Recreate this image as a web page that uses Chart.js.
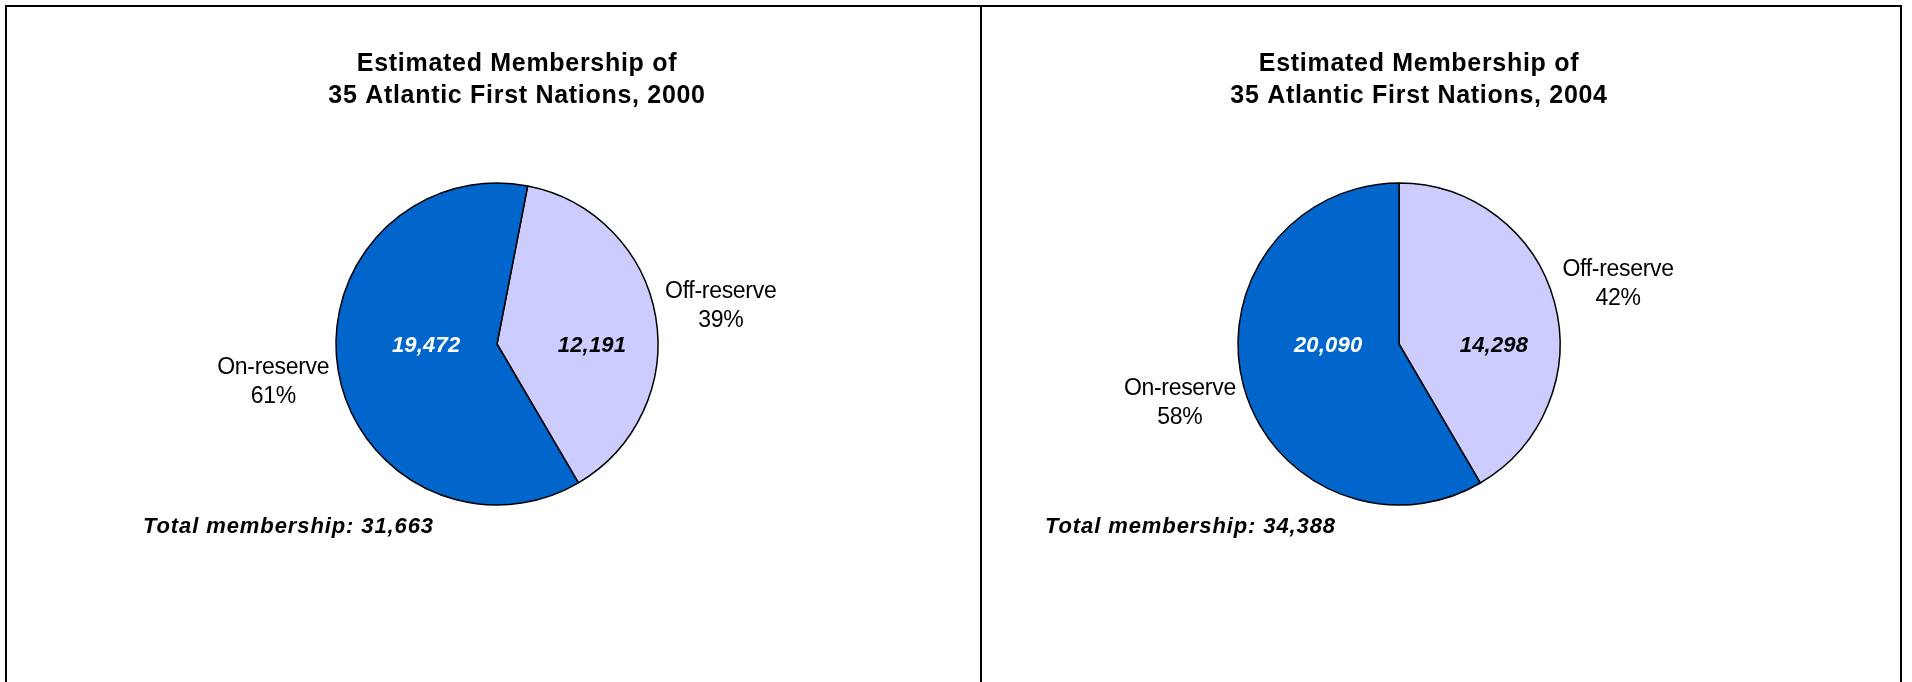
<!DOCTYPE html>
<html>
<head>
<meta charset="utf-8">
<title>Estimated Membership of 35 Atlantic First Nations</title>
<script src="https://cdn.jsdelivr.net/npm/chart.js@4.4.1/dist/chart.umd.min.js"></script>
<style>
  html, body { margin: 0; padding: 0; background: #fff; overflow: hidden; }
  body { width: 1912px; height: 682px; position: relative; }
  #cadre {
    position: absolute; left: 5px; top: 5px; width: 1897px; height: 720px;
    border: 2px solid #000; box-sizing: border-box;
  }
  #separateur { position: absolute; left: 980px; top: 5px; width: 2px; height: 720px; background: #000; }
  canvas { position: absolute; top: 0; }
  #grafico2000 { left: 0; }
  #grafico2004 { left: 982px; }
</style>
</head>
<body>
<div id="cadre"></div>
<div id="separateur"></div>
<canvas id="grafico2000" width="980" height="682"></canvas>
<canvas id="grafico2004" width="922" height="682"></canvas>
<script>
const categorias = ["Off-reserve", "On-reserve"];
const anos = ["2000", "2004"];
const membros2000 = [12191, 19472];
const membros2004 = [14298, 20090];
const cores = ["#CCCCFF", "#0066CC"];
const coresValor = ["#000000", "#FFFFFF"];

const fonte = "'Liberation Sans', Arial, sans-serif";

function formatar(n) {
  return n.toLocaleString("en-US");
}

// titles, outside category labels, slice values and the total line
const textoPizza = {
  id: "textoPizza",
  afterDatasetsDraw(chart, args, opts) {
    const ctx = chart.ctx;
    const arcos = chart.getDatasetMeta(0).data;
    const valores = chart.data.datasets[0].data;
    const total = valores.reduce((a, b) => a + b, 0);
    const cx = arcos[0].x;
    const cy = arcos[0].y;
    const r = arcos[0].outerRadius;

    ctx.save();
    ctx.fillStyle = "#000";

    // title
    ctx.font = "bold 25px " + fonte;
    ctx.letterSpacing = "0.7px";
    ctx.textAlign = "center";
    ctx.textBaseline = "alphabetic";
    opts.titulo.forEach((linha, i) => {
      ctx.fillText(linha, cx + 20, cy - 273 + i * 32);
    });

    // category name and share outside each slice
    ctx.font = "23px " + fonte;
    ctx.letterSpacing = "-0.3px";
    ctx.textBaseline = "middle";
    arcos.forEach((arco, i) => {
      const meio = (arco.startAngle + arco.endAngle) / 2;
      const x = cx + Math.cos(meio) * (r + 66);
      const y = cy + Math.sin(meio) * (r + 66);
      const pct = Math.round(valores[i] / total * 100) + "%";
      ctx.fillText(chart.data.labels[i], x, y - 14.5);
      ctx.fillText(pct, x, y + 14.5);
    });

    // member counts inside slices
    ctx.font = "italic bold 22px " + fonte;
    ctx.letterSpacing = "0.2px";
    arcos.forEach((arco, i) => {
      ctx.fillStyle = coresValor[i];
      ctx.fillText(formatar(valores[i]), cx + opts.deslocamento[i] * r, cy + 2);
    });

    // total
    ctx.fillStyle = "#000";
    ctx.font = "italic bold 22px " + fonte;
    ctx.letterSpacing = "0.9px";
    ctx.textAlign = "left";
    ctx.textBaseline = "alphabetic";
    ctx.fillText("Total membership: " + formatar(total), cx - 354, cy + 189);

    ctx.restore();
  }
};

function montarPizza(id, ano, dados, rotacao, padding) {
  new Chart(document.getElementById(id), {
    type: "pie",
    data: {
      labels: categorias,
      datasets: [
        {
          data: dados,
          backgroundColor: cores,
          borderColor: "#000000",
          borderWidth: 1.5,
          radius: 161
        }
      ]
    },
    options: {
      responsive: false,
      animation: false,
      events: [],
      rotation: rotacao,
      layout: { padding: padding },
      plugins: {
        legend: { display: false },
        tooltip: { enabled: false },
        textoPizza: {
          titulo: ["Estimated Membership of", "35 Atlantic First Nations, " + ano],
          deslocamento: [0.59, -0.44]
        }
      }
    },
    plugins: [textoPizza]
  });
}

montarPizza("grafico2000", anos[0], membros2000, 11, { left: 14, top: 6, right: 0, bottom: 0 });
montarPizza("grafico2004", anos[1], membros2004, 0, { left: 0, top: 6, right: 88, bottom: 0 });
</script>
</body>
</html>
